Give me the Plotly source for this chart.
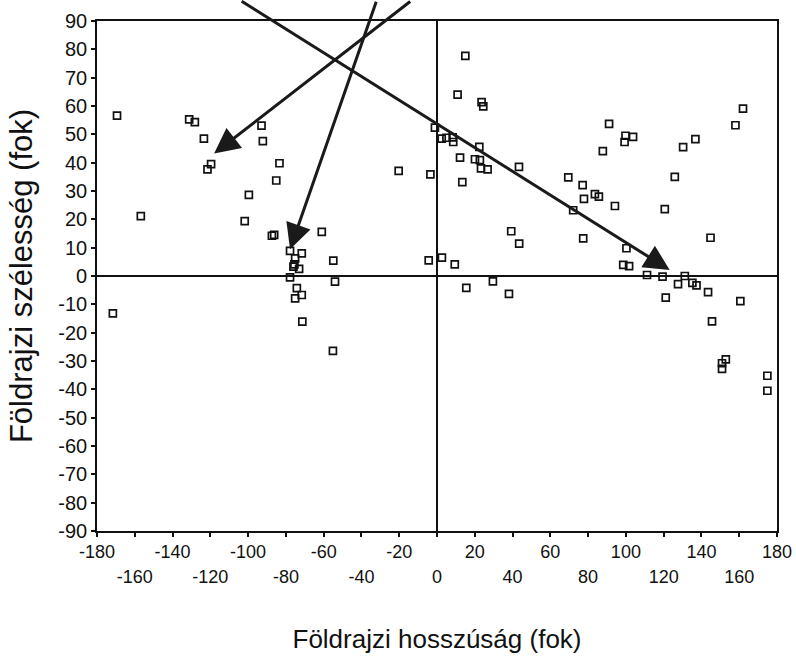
import plotly.graph_objects as go

# Longitude (x) and latitude (y) of each plotted location, in degrees
lon = [-169.4, -131.2, -128.2, -92.9, -123.4, -92.2, -119.6, -121.5, -83.4, -85.1,
       -99.6, -20.3, -3.5, -156.8, -101.8, -87.4, -86.2, -61.0, -77.8, -71.6,
       -75.1, -76.0, -73.0, -75.5, -54.9, -4.4, -77.8, -54.0, -74.2, -71.6,
       -75.1, -171.6, -71.3, -55.1,
       2.6, 15.0, 10.9, 23.6, 24.5, 162.0, 158.0, 91.1, -1.1, 2.5,
       5.0, 8.3, 8.6, 99.8, 103.8, 99.3, 136.8, 130.3, 22.4, 87.8,
       12.2, 20.1, 22.7, 23.3, 26.8, 43.4, 13.4, 69.5, 125.9, 77.1,
       77.8, 83.6, 85.7, 94.2, 120.6, 72.1, 39.3, 43.5, 77.4, 144.8,
       100.3, 9.4, 98.6, 101.7, 111.2, 119.4, 131.2, 127.6, 135.2, 137.4,
       143.5, 121.1, 160.6, 15.5, 29.6, 38.1, 145.6, 152.9, 150.9, 150.9,
       174.9, 174.9]
lat = [56.6, 55.3, 54.3, 53.1, 48.5, 47.6, 39.5, 37.6, 39.8, 33.7,
       28.6, 37.1, 35.9, 21.1, 19.4, 14.2, 14.5, 15.6, 8.9, 8.0,
       6.2, 3.3, 2.5, 4.1, 5.4, 5.5, -0.5, -2.0, -4.3, -6.7,
       -7.9, -13.2, -16.1, -26.4,
       6.5, 77.7, 64.0, 61.4, 59.9, 59.1, 53.2, 53.7, 52.4, 48.5,
       48.8, 48.9, 47.3, 49.5, 49.1, 47.3, 48.3, 45.5, 45.6, 44.1,
       41.8, 41.2, 40.9, 38.0, 37.6, 38.5, 33.1, 34.8, 35.0, 32.1,
       27.2, 28.9, 28.0, 24.7, 23.6, 23.2, 15.8, 11.4, 13.3, 13.5,
       9.8, 4.1, 3.9, 3.5, 0.35, -0.2, 0.0, -2.9, -2.4, -3.3,
       -5.7, -7.6, -8.9, -4.2, -1.9, -6.3, -16.0, -29.4, -30.8, -32.8,
       -35.2, -40.5]

# Axis ticks
x_ticks_row1 = [-180, -140, -100, -60, -20, 20, 60, 100, 140, 180]
x_ticks_row2 = [-160, -120, -80, -40, 0, 40, 80, 120, 160]
y_ticks = list(range(90, -91, -10))

# Arrows: (tail lon, tail lat) -> (head lon, head lat)
arrow_tail_lon = [-104.2, -13.4, -31.9]
arrow_tail_lat = [97.3, 97.3, 97.3]
arrow_head_lon = [123.2, -118.0, -77.8]
arrow_head_lat = [2.1, 43.2, 9.4]

FONT = "Liberation Sans, Arial, sans-serif"
INK = "#111111"

fig = go.Figure()
fig.add_trace(go.Scatter(
    x=lon, y=lat, mode="markers",
    marker=dict(symbol="square-open", size=7, color=INK, line=dict(width=1.7, color=INK)),
    showlegend=False, hoverinfo="x+y",
))
# invisible helper trace for the second row of x tick labels
fig.add_trace(go.Scatter(
    x=[x_ticks_row2[0], x_ticks_row2[-1]], y=[0, 0], xaxis="x2", mode="markers",
    marker=dict(opacity=0), showlegend=False, hoverinfo="skip",
))

all_x_ticks = sorted(x_ticks_row1 + x_ticks_row2)
fig.update_layout(
    width=796, height=658,
    margin=dict(l=97, r=19, t=21, b=127),
    paper_bgcolor="white", plot_bgcolor="white",
    font=dict(family=FONT, color=INK, size=18),
    xaxis=dict(
        range=[-180, 180], tickmode="array", tickvals=all_x_ticks,
        ticktext=[str(v) if v in x_ticks_row1 else "" for v in all_x_ticks],
        ticks="outside", ticklen=4, tickwidth=1.5, tickcolor=INK,
        showline=True, linecolor=INK, linewidth=1.6, mirror=True,
        showgrid=False, zeroline=True, zerolinecolor=INK, zerolinewidth=1.6,
        tickfont=dict(size=18), automargin=False,
        title=dict(text="Földrajzi hosszúság (fok)", font=dict(size=26), standoff=68),
    ),
    xaxis2=dict(
        overlaying="x", matches="x", side="bottom", anchor="y",
        tickmode="array", tickvals=x_ticks_row2, ticktext=[str(v) for v in x_ticks_row2],
        ticks="", showline=False, showgrid=False, zeroline=False, automargin=False,
        ticklabelstandoff=33, tickfont=dict(size=18),
    ),
    yaxis=dict(
        range=[-90, 90], tickmode="array", tickvals=y_ticks,
        ticktext=[str(v) for v in y_ticks],
        ticks="outside", ticklen=4, tickwidth=1.5, tickcolor=INK,
        showline=True, linecolor=INK, linewidth=1.6, mirror=True,
        showgrid=False, zeroline=True, zerolinecolor=INK, zerolinewidth=1.6,
        tickfont=dict(size=20), automargin=False,
        title=dict(text="Földrajzi szélesség (fok)", font=dict(size=31), standoff=16),
    ),
)

for tx, ty, hx, hy in zip(arrow_tail_lon, arrow_tail_lat, arrow_head_lon, arrow_head_lat):
    fig.add_annotation(
        x=hx, y=hy, ax=tx, ay=ty, xref="x", yref="y", axref="x", ayref="y",
        showarrow=True, arrowhead=2, arrowsize=1.7, arrowwidth=3, arrowcolor="#1a1a1a",
        text="", standoff=0,
    )

fig.write_html(
    "out.html",
    config={"displayModeBar": False},
    post_script="document.body.style.margin='0';document.body.style.padding='0';",
)
